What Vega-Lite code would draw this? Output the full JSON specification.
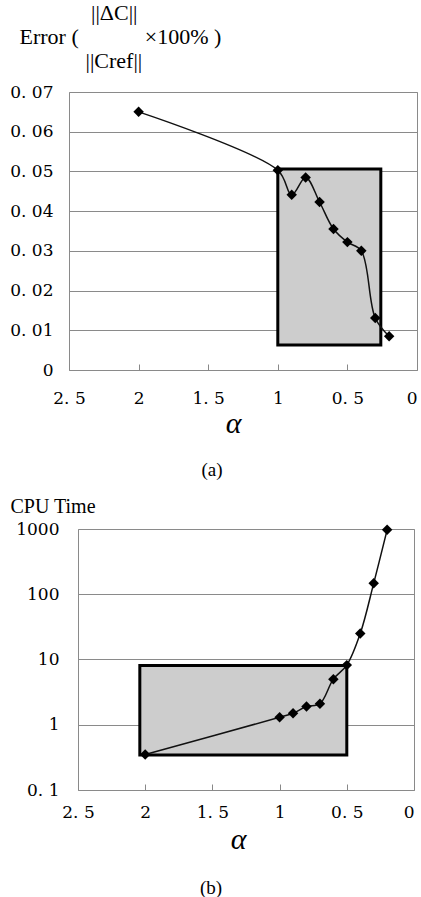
{
  "$schema": "https://vega.github.io/schema/vega-lite/v6.json",
  "background": "white",
  "padding": {"left": 8, "top": 0, "right": 0, "bottom": 0},
  "spacing": 14,
  "config": {
    "font": "Liberation Serif",
    "view": {"stroke": "#8a8a8a", "strokeWidth": 1},
    "axis": {
      "labelFont": "DejaVu Serif",
      "labelColor": "#000",
      "labelFontSize": 17,
      "titleFont": "Liberation Serif",
      "titleColor": "#000",
      "titleFontWeight": "normal",
      "labelFlush": false,
      "labelOverlap": false,
      "labelBound": false,
      "tickCount": 12
    }
  },
  "datasets": {
    "none": [],
    "err": [
      {"alpha": 2.0, "err": 0.065},
      {"alpha": 1.0, "err": 0.0503},
      {"alpha": 0.9, "err": 0.0441},
      {"alpha": 0.8, "err": 0.0485},
      {"alpha": 0.7, "err": 0.0423},
      {"alpha": 0.6, "err": 0.0355},
      {"alpha": 0.5, "err": 0.0322},
      {"alpha": 0.4, "err": 0.0300},
      {"alpha": 0.3, "err": 0.0131},
      {"alpha": 0.2, "err": 0.0085}
    ],
    "errBox": [{"alpha": 1.0, "alpha2": 0.26, "err": 0.0063, "err2": 0.0506}],
    "cpu": [
      {"alpha": 2.0, "cpu": 0.35},
      {"alpha": 1.0, "cpu": 1.3},
      {"alpha": 0.9, "cpu": 1.5},
      {"alpha": 0.8, "cpu": 1.9},
      {"alpha": 0.7, "cpu": 2.1},
      {"alpha": 0.6, "cpu": 5.0},
      {"alpha": 0.5, "cpu": 8.2},
      {"alpha": 0.4, "cpu": 25},
      {"alpha": 0.3, "cpu": 147},
      {"alpha": 0.2, "cpu": 970}
    ],
    "cpuBox": [{"alpha": 2.04, "alpha2": 0.5, "cpu": 0.345, "cpu2": 8.1}]
  },
  "vconcat": [
    {"spacing": 0, "hconcat": [
    {"width": 1, "height": 1, "data": {"name": "none"}, "mark": "point", "view": {"stroke": null}},
    {
      "width": 348,
      "height": 278,
      "title": {"text": "(a)", "orient": "bottom", "font": "Liberation Serif", "fontSize": 19, "fontWeight": "normal", "color": "#000", "dx": -31, "offset": 23},
      "layer": [
        {
          "data": {"name": "errBox"},
          "mark": {"type": "rect", "fill": "#cdcdcd", "stroke": "#000", "strokeWidth": 3},
          "encoding": {
            "x": {"field": "alpha", "type": "quantitative",
              "scale": {"domain": [0, 2.5], "reverse": true, "nice": false, "zero": false},
              "axis": {"values": [2.5, 2, 1.5, 1, 0.5, 0], "tickCount": 12, "format": "~r", "labelExpr": "replace(datum.label, '.', '. ')",
                "labelAlign": {"condition": {"test": "datum.value === 0", "value": "right"}, "value": "center"},
                "grid": false, "domain": false, "ticks": true, "tickSize": -6, "tickColor": "#888",
                "labelPadding": 26, "title": "α", "titleFontSize": 30, "titleFontStyle": "italic", "titleX": 164, "titlePadding": 2}},
            "x2": {"field": "alpha2"},
            "y": {"field": "err", "type": "quantitative",
              "scale": {"domain": [0, 0.07], "nice": false},
              "axis": {"values": [0, 0.01, 0.02, 0.03, 0.04, 0.05, 0.06, 0.07], "tickCount": 12, "format": ".2~f", "labelExpr": "replace(datum.label, '.', '. ')",
                "grid": true, "gridColor": "#8a8a8a", "domain": false, "ticks": false, "labelPadding": 16,
                "title": ["\u200b\u00a0\u00a0\u00a0\u00a0\u00a0\u00a0\u00a0\u00a0\u00a0\u00a0\u00a0\u00a0\u00a0||ΔC||", "Error (\u00a0\u00a0\u00a0\u00a0\u00a0\u00a0\u00a0\u00a0\u00a0\u00a0\u00a0\u00a0×100% )", "\u200b\u00a0\u00a0\u00a0\u00a0\u00a0\u00a0\u00a0\u00a0\u00a0\u00a0\u00a0\u00a0||Cref||"],
                "titleFontSize": 22, "titleLineHeight": 24, "titleAngle": 0, "titleAlign": "left", "titleBaseline": "top", "titleX": -50, "titleY": -90}},
            "y2": {"field": "err2"}
          }
        },
        {
          "data": {"name": "err"},
          "mark": {"type": "line", "interpolate": "catmull-rom", "color": "#111", "strokeWidth": 1.5},
          "encoding": {
            "x": {"field": "alpha", "type": "quantitative"},
            "y": {"field": "err", "type": "quantitative"}
          }
        },
        {
          "data": {"name": "err"},
          "mark": {"type": "point", "shape": "diamond", "filled": true, "color": "#000", "size": 110, "opacity": 1},
          "encoding": {
            "x": {"field": "alpha", "type": "quantitative"},
            "y": {"field": "err", "type": "quantitative"}
          }
        }
      ]
    }
    ]},
    {"spacing": 0, "hconcat": [
    {"width": 1, "height": 1, "data": {"name": "none"}, "mark": "point", "view": {"stroke": null}},
    {
      "width": 336,
      "height": 261,
      "title": {"text": "(b)", "orient": "bottom", "font": "Liberation Serif", "fontSize": 19, "fontWeight": "normal", "color": "#000", "dx": -35, "offset": 25},
      "layer": [
        {
          "data": {"name": "cpuBox"},
          "mark": {"type": "rect", "fill": "#cdcdcd", "stroke": "#000", "strokeWidth": 3},
          "encoding": {
            "x": {"field": "alpha", "type": "quantitative",
              "scale": {"domain": [0, 2.5], "reverse": true, "nice": false, "zero": false},
              "axis": {"values": [2.5, 2, 1.5, 1, 0.5, 0], "tickCount": 12, "format": "~r", "labelExpr": "replace(datum.label, '.', '. ')",
                "labelAlign": {"condition": {"test": "datum.value === 0", "value": "right"}, "value": "center"},
                "grid": false, "domain": false, "ticks": true, "tickSize": -6, "tickColor": "#888",
                "labelPadding": 20, "title": "α", "titleFontSize": 30, "titleFontStyle": "italic", "titleX": 160, "titlePadding": 4}},
            "x2": {"field": "alpha2"},
            "y": {"field": "cpu", "type": "quantitative",
              "scale": {"type": "log", "domain": [0.1, 1000], "nice": false},
              "axis": {"values": [0.1, 1, 10, 100, 1000], "tickCount": 12, "format": "~r", "labelExpr": "replace(datum.label, '.', '. ')",
                "grid": true, "gridColor": "#8a8a8a", "domain": false, "ticks": false, "labelPadding": 19,
                "title": "CPU Time", "titleFontSize": 20, "titleAngle": 0, "titleAlign": "left", "titleBaseline": "top", "titleX": -68, "titleY": -33}},
            "y2": {"field": "cpu2"}
          }
        },
        {
          "data": {"name": "cpu"},
          "mark": {"type": "line", "interpolate": "catmull-rom", "color": "#111", "strokeWidth": 1.5},
          "encoding": {
            "x": {"field": "alpha", "type": "quantitative"},
            "y": {"field": "cpu", "type": "quantitative"}
          }
        },
        {
          "data": {"name": "cpu"},
          "mark": {"type": "point", "shape": "diamond", "filled": true, "color": "#000", "size": 110, "opacity": 1},
          "encoding": {
            "x": {"field": "alpha", "type": "quantitative"},
            "y": {"field": "cpu", "type": "quantitative"}
          }
        }
      ]
    }
    ]}
  ]
}
